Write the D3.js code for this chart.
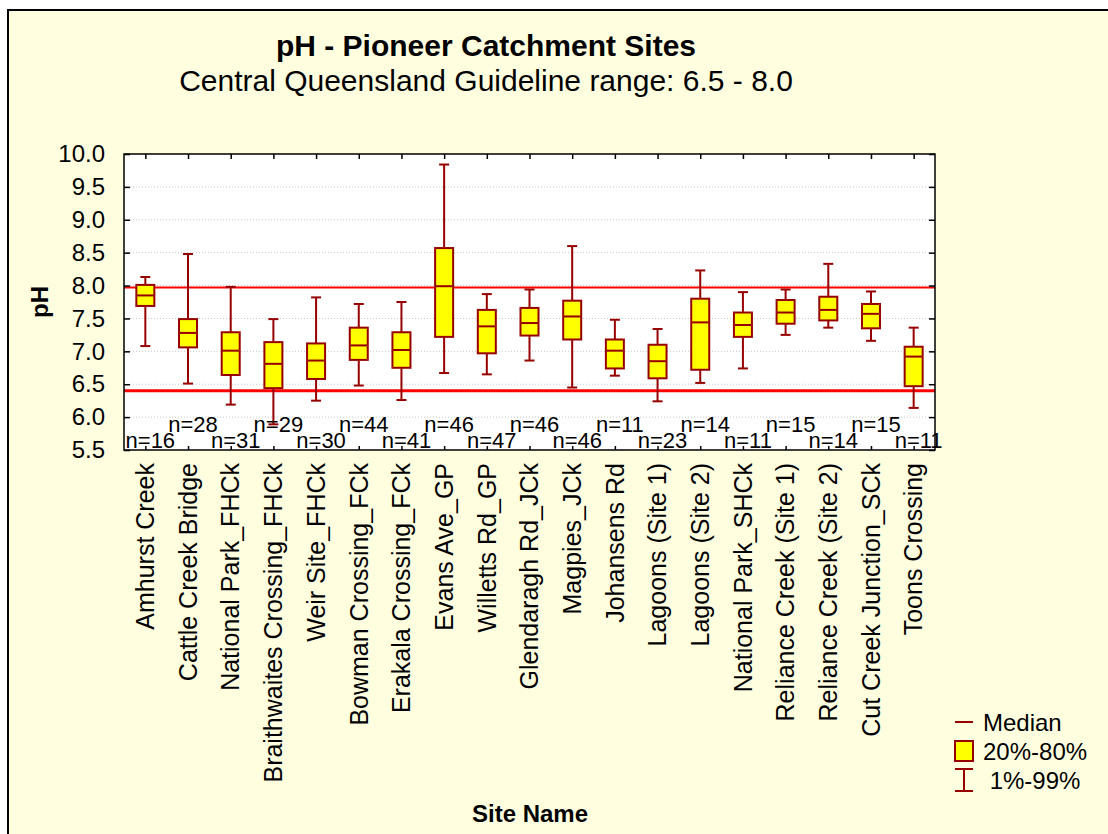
<!DOCTYPE html>
<html>
<head>
<meta charset="utf-8">
<script src="https://cdn.jsdelivr.net/npm/d3@7"></script>
<style>
  html, body { margin: 0; padding: 0; background: #ffffff; }
  svg { display: block; }
  text { font-family: "Liberation Sans", Arial, sans-serif; fill: #000; }
</style>
</head>
<body>
<svg id="chart" width="1108" height="834"></svg>
<script>
// ---- Data ----
const sites = [
  "Amhurst Creek", "Cattle Creek Bridge", "National Park_FHCk", "Braithwaites Crossing_FHCk",
  "Weir Site_FHCk", "Bowman Crossing_FCk", "Erakala Crossing_FCk", "Evans Ave_GP",
  "Willetts Rd_GP", "Glendaragh Rd_JCk", "Magpies_JCk", "Johansens Rd",
  "Lagoons (Site 1)", "Lagoons (Site 2)", "National Park_SHCk", "Reliance Creek (Site 1)",
  "Reliance Creek (Site 2)", "Cut Creek Junction_SCk", "Toons Crossing"
];
const p01    = [7.08, 6.51, 6.19, 5.89, 6.25, 6.48, 6.26, 6.67, 6.65, 6.86, 6.45, 6.63, 6.24, 6.52, 6.74, 7.25, 7.36, 7.16, 6.14];
const p20    = [7.69, 7.06, 6.64, 6.44, 6.58, 6.87, 6.75, 7.22, 6.97, 7.24, 7.18, 6.74, 6.59, 6.72, 7.22, 7.42, 7.47, 7.35, 6.47];
const median = [7.85, 7.28, 7.01, 6.81, 6.86, 7.09, 7.02, 7.99, 7.38, 7.43, 7.53, 7.01, 6.85, 7.44, 7.40, 7.59, 7.63, 7.57, 6.92];
const p80    = [8.01, 7.49, 7.29, 7.14, 7.12, 7.36, 7.29, 8.57, 7.63, 7.66, 7.77, 7.18, 7.10, 7.80, 7.59, 7.78, 7.83, 7.72, 7.07];
const p99    = [8.13, 8.48, 7.98, 7.49, 7.82, 7.72, 7.75, 9.84, 7.87, 7.94, 8.60, 7.48, 7.34, 8.23, 7.90, 7.94, 8.33, 7.91, 7.36];
const nObs   = [16, 28, 31, 29, 30, 44, 41, 46, 47, 46, 46, 11, 23, 14, 11, 15, 14, 15, 11];
const yTicks = [5.5, 6.0, 6.5, 7.0, 7.5, 8.0, 8.5, 9.0, 9.5, 10.0];
const guideLines = [7.97, 6.40];
const titleText = "pH - Pioneer Catchment Sites";
const subtitleText = "Central Queensland Guideline range: 6.5 - 8.0";
const legendLabels = ["Median", "20%-80%", " 1%-99%"];

// ---- Layout ----
const svg = d3.select("#chart");
const W = 1108, H = 834;
const plot = { left: 124, right: 935, top: 154, bottom: 450 };
const dark = "#960000";

svg.append("rect").attr("x", 8).attr("y", 10).attr("width", W - 8).attr("height", H - 10)
  .attr("fill", "#ffffe0");
svg.append("path").attr("d", `M8,${H} V10 H${W}`).attr("fill", "none")
  .attr("stroke", "#000").attr("stroke-width", 2);

const x = d3.scalePoint().domain(sites).range([plot.left, plot.right]).padding(0.5);
const y = d3.scaleLinear().domain([5.5, 10]).range([plot.bottom, plot.top]);

// plot background
svg.append("rect").attr("x", plot.left).attr("y", plot.top)
  .attr("width", plot.right - plot.left).attr("height", plot.bottom - plot.top)
  .attr("fill", "#ffffff");

// gridlines
svg.append("g").selectAll("line").data(yTicks.filter(t => t > 5.5 && t < 10)).join("line")
  .attr("x1", plot.left).attr("x2", plot.right)
  .attr("y1", d => y(d)).attr("y2", d => y(d))
  .attr("stroke", "#c8c8c8").attr("stroke-width", 1).attr("stroke-dasharray", "1,2");

// guideline lines
svg.append("g").selectAll("line").data(guideLines).join("line")
  .attr("x1", plot.left).attr("x2", plot.right)
  .attr("y1", d => y(d)).attr("y2", d => y(d))
  .attr("stroke", "#ff0000").attr("stroke-width", (d, i) => i === 0 ? 2 : 3);

// boxes
const idx = d3.range(sites.length);
const bw = 18, cap = 10;
const g = svg.append("g");
const item = g.selectAll("g").data(idx).join("g");
item.append("line")
  .attr("x1", i => x(sites[i])).attr("x2", i => x(sites[i]))
  .attr("y1", i => y(p99[i])).attr("y2", i => y(p01[i]))
  .attr("stroke", dark).attr("stroke-width", 2);
item.append("line")
  .attr("x1", i => x(sites[i]) - cap / 2).attr("x2", i => x(sites[i]) + cap / 2)
  .attr("y1", i => y(p99[i])).attr("y2", i => y(p99[i]))
  .attr("stroke", dark).attr("stroke-width", 2);
item.append("line")
  .attr("x1", i => x(sites[i]) - cap / 2).attr("x2", i => x(sites[i]) + cap / 2)
  .attr("y1", i => y(p01[i])).attr("y2", i => y(p01[i]))
  .attr("stroke", dark).attr("stroke-width", 2);
item.append("rect")
  .attr("x", i => x(sites[i]) - bw / 2).attr("width", bw)
  .attr("y", i => y(p80[i])).attr("height", i => y(p20[i]) - y(p80[i]))
  .attr("fill", "#ffff00").attr("stroke", dark).attr("stroke-width", 2);
item.append("line")
  .attr("x1", i => x(sites[i]) - bw / 2).attr("x2", i => x(sites[i]) + bw / 2)
  .attr("y1", i => y(median[i])).attr("y2", i => y(median[i]))
  .attr("stroke", dark).attr("stroke-width", 2);

// n labels
svg.append("g").selectAll("text").data(idx).join("text")
  .attr("x", i => x(sites[i]) + 5)
  .attr("y", i => i % 2 === 0 ? 448 : 432)
  .attr("text-anchor", "middle").attr("font-size", 22)
  .text(i => "n=" + nObs[i]);

// frame
svg.append("rect").attr("x", plot.left).attr("y", plot.top)
  .attr("width", plot.right - plot.left).attr("height", plot.bottom - plot.top)
  .attr("fill", "none").attr("stroke", "#000").attr("stroke-width", 1.5);

// axes with inward ticks
const leftAxis = svg.append("g").attr("transform", `translate(${plot.left},0)`)
  .call(d3.axisLeft(y).tickValues(yTicks).tickSize(-6).tickPadding(19).tickFormat(d3.format(".1f")));
const rightAxis = svg.append("g").attr("transform", `translate(${plot.right},0)`)
  .call(d3.axisRight(y).tickValues(yTicks).tickSize(-6).tickFormat(""));
const bottomAxis = svg.append("g").attr("transform", `translate(0,${plot.bottom})`)
  .call(d3.axisBottom(x).tickSize(-4).tickFormat(""));
const topAxis = svg.append("g").attr("transform", `translate(0,${plot.top})`)
  .call(d3.axisTop(x).tickSize(-5).tickFormat(""));
[leftAxis, rightAxis, bottomAxis, topAxis].forEach(a => {
  a.select(".domain").remove();
  a.selectAll(".tick line").attr("stroke", "#000").attr("stroke-width", 1.5);
});
leftAxis.selectAll(".tick text").attr("font-size", 24).attr("fill", "#000")
  .attr("font-family", "Liberation Sans, Arial, sans-serif");

// x category labels
svg.append("g").selectAll("text").data(sites).join("text")
  .attr("transform", d => `translate(${x(d)},463) rotate(-90)`)
  .attr("dy", "0.35em").attr("text-anchor", "end").attr("font-size", 25)
  .text(d => d);

// titles
svg.append("text").attr("x", 486).attr("y", 56).attr("text-anchor", "middle")
  .attr("font-size", 30).attr("font-weight", "bold").text(titleText);
svg.append("text").attr("x", 486).attr("y", 91).attr("text-anchor", "middle")
  .attr("font-size", 30).text(subtitleText);
svg.append("text").attr("transform", "translate(40,302) rotate(-90)")
  .attr("dy", "0.35em").attr("text-anchor", "middle")
  .attr("font-size", 24).attr("font-weight", "bold").text("pH");
svg.append("text").attr("x", 530).attr("y", 822).attr("text-anchor", "middle")
  .attr("font-size", 24).attr("font-weight", "bold").text("Site Name");

// legend
const lg = svg.append("g");
lg.append("line").attr("x1", 955).attr("x2", 973).attr("y1", 722).attr("y2", 722)
  .attr("stroke", dark).attr("stroke-width", 2);
lg.append("rect").attr("x", 955).attr("y", 741).attr("width", 18).attr("height", 20)
  .attr("fill", "#ffff00").attr("stroke", dark).attr("stroke-width", 2);
lg.append("line").attr("x1", 964).attr("x2", 964).attr("y1", 769).attr("y2", 791)
  .attr("stroke", dark).attr("stroke-width", 2);
lg.append("line").attr("x1", 955).attr("x2", 973).attr("y1", 769).attr("y2", 769)
  .attr("stroke", dark).attr("stroke-width", 2);
lg.append("line").attr("x1", 955).attr("x2", 973).attr("y1", 791).attr("y2", 791)
  .attr("stroke", dark).attr("stroke-width", 2);
lg.selectAll("text").data(legendLabels).join("text")
  .attr("x", 983).attr("y", (d, i) => 731 + i * 29)
  .attr("font-size", 24).attr("xml:space", "preserve").style("white-space", "pre")
  .text(d => d);
</script>
</body>
</html>
